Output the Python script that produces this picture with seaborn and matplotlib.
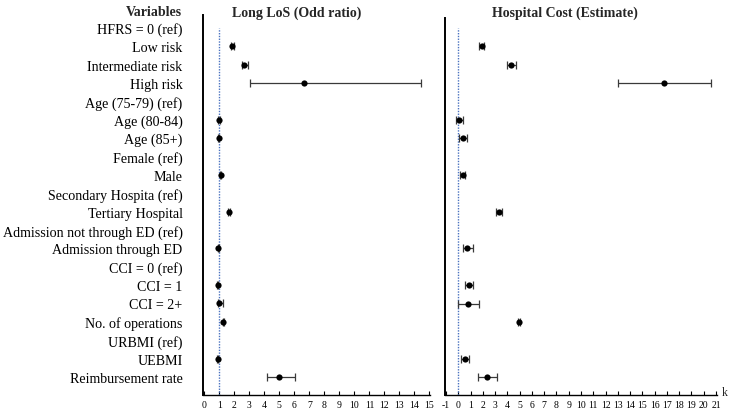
import numpy as np
import pandas as pd
import matplotlib
matplotlib.use("Agg")
import matplotlib.pyplot as plt
import seaborn as sns

variables = ["HFRS = 0 (ref)", "Low risk", "Intermediate risk", "High risk",
             "Age (75-79) (ref)", "Age (80-84)", "Age (85+)", "Female (ref)", "Male",
             "Secondary Hospita (ref)", "Tertiary Hospital",
             "Admission not through ED (ref)", "Admission through ED",
             "CCI = 0 (ref)", "CCI = 1", "CCI = 2+", "No. of operations",
             "URBMI (ref)", "UEBMI", "Reimbursement rate"]
nan = np.nan
los_or = [nan, 1.88, 2.67, 6.66, nan, 0.98, 0.97, nan, 1.10, nan, 1.66,
          nan, 0.95, nan, 0.90, 1.00, 1.26, nan, 0.90, 4.97]
los_lo = [nan, 1.78, 2.50, 3.05, nan, 0.95, 0.94, nan, 1.06, nan, 1.58,
          nan, 0.91, nan, 0.86, 0.93, 1.22, nan, 0.86, 4.20]
los_hi = [nan, 1.98, 2.94, 14.45, nan, 1.02, 1.01, nan, 1.14, nan, 1.75,
          nan, 0.99, nan, 0.94, 1.24, 1.30, nan, 0.94, 6.04]
cost_est = [nan, 1.90, 4.30, 16.77, nan, 0.10, 0.36, nan, 0.36, nan, 3.34,
            nan, 0.73, nan, 0.90, 0.82, 4.97, nan, 0.52, 2.34]
cost_lo = [nan, 1.68, 3.95, 12.99, nan, -0.15, 0.08, nan, 0.15, nan, 3.10,
           nan, 0.38, nan, 0.57, -0.02, 4.90, nan, 0.25, 1.58]
cost_hi = [nan, 2.12, 4.70, 20.60, nan, 0.35, 0.68, nan, 0.55, nan, 3.60,
           nan, 1.17, nan, 1.22, 1.71, 5.04, nan, 0.90, 3.15]
left_ticks = list(range(0, 16))
right_ticks = list(range(-1, 22))

df = pd.DataFrame({"var": variables, "row": np.arange(len(variables)),
                   "or": los_or, "or_lo": los_lo, "or_hi": los_hi,
                   "est": cost_est, "est_lo": cost_lo, "est_hi": cost_hi})

sns.set_theme(style="white")
plt.rcParams['font.family'] = ['Liberation Serif', 'DejaVu Serif']

W, H = 731, 414
fig = plt.figure(figsize=(W / 100, H / 100), dpi=100)
ax1 = fig.add_axes([202.7 / W, 18 / H, 227.5 / W, 380 / H])
ax2 = fig.add_axes([445 / W, 18 / H, 271.6 / W, 377 / H])

ylim1 = (19.98, -0.70)
ylim2 = (19.98, -0.54)
ref_blue = "#4a72c0"
err_col = "#3a3a3a"

def panel(ax, x, lo, hi, xlim, ticks, refx, ylim):
    d = df.dropna(subset=[x])
    ax.axvline(refx, ymin=0, ymax=(ylim[0] - 0.0) / (ylim[0] - ylim[1]),
               color=ref_blue, lw=1.0, ls=(0, (1, 1)), zorder=1)
    ax.errorbar(d[x], d["row"], xerr=[d[x] - d[lo], d[hi] - d[x]], fmt="none",
                ecolor=err_col, elinewidth=0.9, capsize=3, capthick=0.9, zorder=2)
    sns.scatterplot(data=d, x=x, y="row", ax=ax, color="black", s=20,
                    edgecolor="black", linewidth=0, zorder=3, legend=False)
    ax.set_xlim(*xlim)
    ax.set_ylim(*ylim)
    ax.set_xticks(ticks)
    ax.set_xticklabels([str(t) for t in ticks], fontsize=7)
    ax.tick_params(axis="x", direction="in", length=3, width=0.8, pad=3.5,
                   colors="black", bottom=True)
    ax.set_xlabel("")
    ax.set_ylabel("")
    for s in ["top", "right"]:
        ax.spines[s].set_visible(False)
    ax.spines["left"].set_color("black")
    ax.spines["left"].set_linewidth(1.4)
    ax.spines["bottom"].set_color("black")
    ax.spines["bottom"].set_linewidth(1.0)

panel(ax1, "or", "or_lo", "or_hi", (-0.1, 15.05), left_ticks, 1, ylim1)
panel(ax2, "est", "est_lo", "est_hi", (-1.08, 21.05), right_ticks, 0, ylim2)

ax1.set_yticks(df["row"])
ax1.set_yticklabels(df["var"], fontsize=10.1)
ax1.tick_params(axis="y", length=0, pad=14.5, colors="black")
ax2.set_yticks([])

fig.text(297 / W, 1 - 13 / H, "Long LoS (Odd ratio)", ha="center", va="center",
         fontsize=10, fontweight="bold")
fig.text(565 / W, 1 - 13 / H, "Hospital Cost (Estimate)", ha="center", va="center",
         fontsize=10, fontweight="bold")
fig.text(182 / W, 1 - 12 / H, "Variables", ha="right", va="center",
         fontsize=10, fontweight="bold")
fig.text(725 / W, 1 - 393 / H, "k", ha="center", va="center", fontsize=8.5)

fig.savefig("out.png", dpi=100)
